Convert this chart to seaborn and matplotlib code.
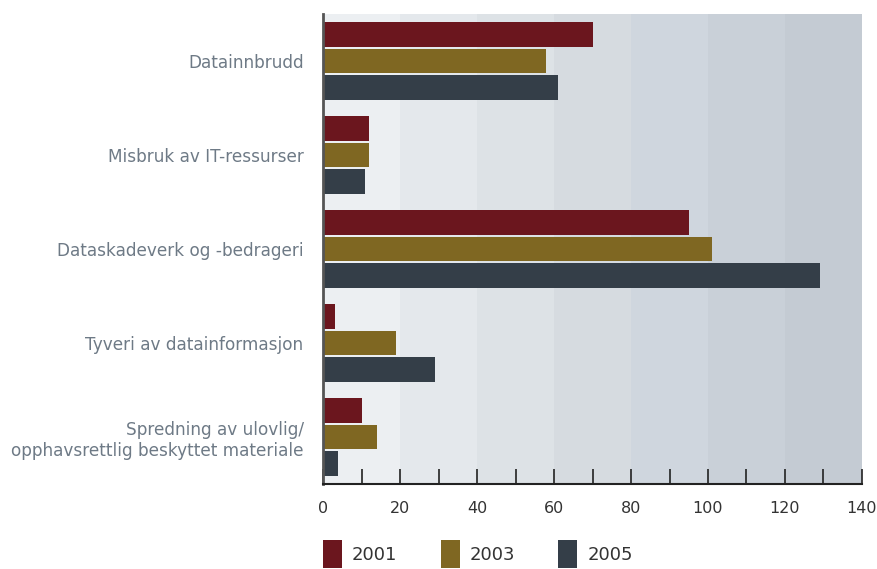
import matplotlib
matplotlib.use("Agg")
import matplotlib.pyplot as plt
import seaborn as sns
import pandas as pd
from matplotlib.patches import Patch

categories = ["Datainnbrudd", "Misbruk av IT-ressurser", "Dataskadeverk og -bedrageri",
              "Tyveri av datainformasjon",
              "Spredning av ulovlig/\nopphavsrettlig beskyttet materiale"]
years = ["2001", "2003", "2005"]
v2001 = [70, 12, 95, 3, 10]
v2003 = [58, 12, 101, 19, 14]
v2005 = [61, 11, 129, 29, 4]
colors = ["#6B161E", "#7F6722", "#343E48"]
band_colors = ["#ECEFF2", "#E4E8EC", "#DDE2E6", "#D6DBE0", "#CFD6DE", "#C9D0D8", "#C4CBD3"]

rows = []
for y, vals in zip(years, [v2001, v2003, v2005]):
    for c, v in zip(categories, vals):
        rows.append({"cat": c, "year": y, "val": v})
df = pd.DataFrame(rows)

sns.set_style("white")
plt.rcParams['font.family'] = ['DejaVu Sans']

fig = plt.figure(figsize=(8.78, 5.69), dpi=100)
ax = fig.add_axes([323/878, 1-484/569, (862-323)/878, (484-14)/569])

for i, bc in enumerate(band_colors):
    ax.axvspan(i*20, (i+1)*20, color=bc, zorder=0, lw=0)

sns.barplot(data=df, y="cat", x="val", hue="year", order=categories, hue_order=years,
            palette=colors, orient="h", width=0.85, gap=0.08, ax=ax, legend=False,
            saturation=1, zorder=2, edgecolor="none")

ax.set_xlim(0, 140)
ax.set_ylim(4.5, -0.5)
ax.set_xlabel("")
ax.set_ylabel("")
ax.set_xticks(range(0, 141, 20))
ax.set_xticks(range(0, 141, 10), minor=True)
ax.tick_params(axis="x", which="both", direction="in", length=11, width=1.2, color="#222222",
               labelsize=11.5, labelcolor="#333333", pad=12, bottom=True)
ax.tick_params(axis="y", length=0, labelsize=12.2, labelcolor="#6E7A86", pad=14)
for lab in ax.get_yticklabels():
    lab.set_horizontalalignment("right")
for s in ["top", "right"]:
    ax.spines[s].set_visible(False)
ax.spines["left"].set_color("#555555")
ax.spines["left"].set_linewidth(2)
ax.spines["bottom"].set_color("#222222")
ax.spines["bottom"].set_linewidth(1.5)
ax.spines["left"].set_zorder(5)
ax.spines["bottom"].set_zorder(5)

handles = [Patch(facecolor=c, edgecolor="none", label=y) for c, y in zip(colors, years)]
fig.legend(handles=handles, loc="lower left", bbox_to_anchor=(323/878, 1/569), ncol=3,
           frameon=False, handlelength=1.05, handleheight=2.0, handletextpad=0.55,
           columnspacing=2.4, fontsize=13, labelcolor="#333333",
           borderpad=0, borderaxespad=0)

fig.savefig("out.png", dpi=100)
